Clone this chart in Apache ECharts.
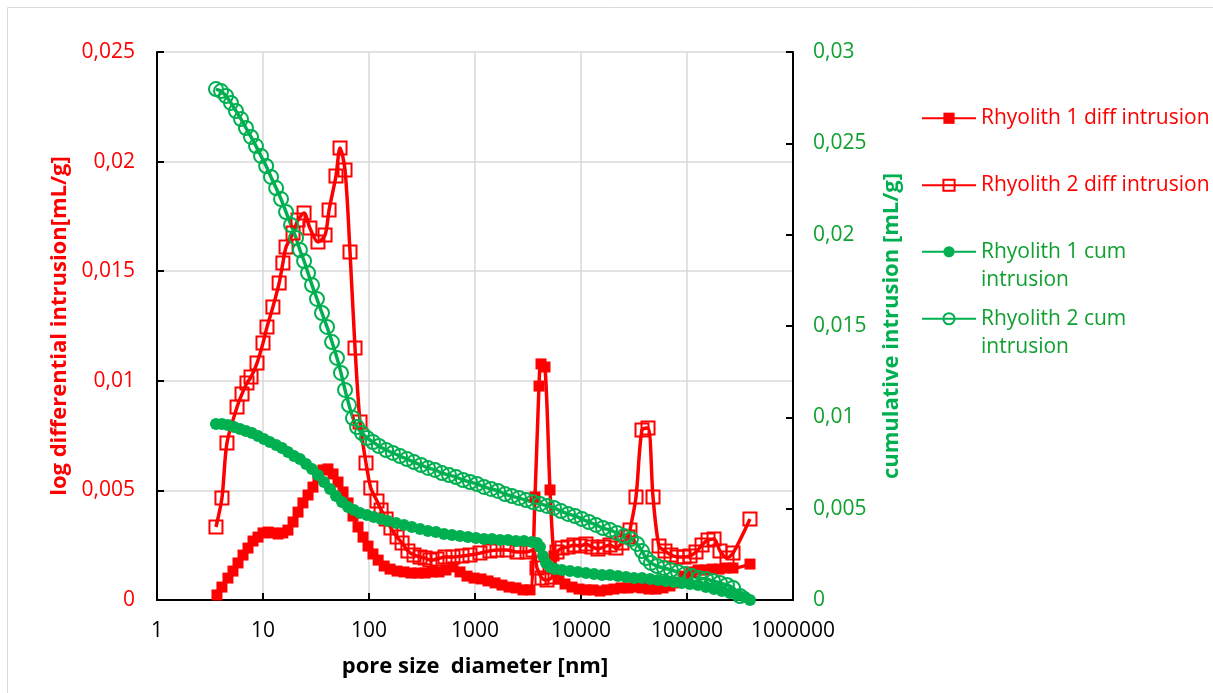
<!DOCTYPE html>
<html>
<head>
<meta charset="utf-8">
<script src="https://cdn.jsdelivr.net/npm/echarts@6/dist/echarts.min.js"></script>
<style>
html,body{margin:0;padding:0;background:#fff;}
#chart{width:1213px;height:693px;}
</style>
</head>
<body>
<div id="chart"></div>
<script>
// ---- data ----
const seriesNames = ['Rhyolith 1 diff intrusion', 'Rhyolith 2 diff intrusion', 'Rhyolith 1 cum intrusion', 'Rhyolith 2 cum intrusion'];
const xTickLabels = ['1', '10', '100', '1000', '10000', '100000', '1000000'];

const r1DiffX = [3.68,4.10,4.67,5.21,5.81,6.48,7.22,8.05,8.97,10.0,11.2,12.4,13.9,15.4,17.2,19.2,21.4,23.8,26.6,29.6,33.0,36.8,41.0,45.8,51.0,56.9,63.4,70.6,78.8,87.8,97.9,109,122,139,158,184,214,249,290,338,393,458,532,620,722,841,979,1140,1327,1545,1799,2094,2437,2837,3304,3681,4015,4195,4575,5101,5559,6198,7063,8228,9572,11140,12970,15110,17590,20480,23850,27740,32300,37620,43820,51050,59430,69130,80540,93750,109100,127000,147900,172200,200400,233400,271700,392800];
const r1DiffY = [0.00023,0.00059,0.00100,0.00132,0.00169,0.00205,0.00237,0.00269,0.00287,0.00306,0.00310,0.00306,0.00301,0.00306,0.00319,0.00356,0.00401,0.00443,0.00479,0.00515,0.00557,0.00593,0.00598,0.00575,0.00538,0.00493,0.00443,0.00383,0.00333,0.00287,0.00246,0.00210,0.00182,0.00155,0.00141,0.00132,0.00128,0.00123,0.00123,0.00123,0.00128,0.00128,0.00137,0.00151,0.00128,0.00109,0.00100,0.00096,0.00087,0.00078,0.00068,0.00059,0.00055,0.00046,0.00046,0.00470,0.00976,0.01077,0.01063,0.00502,0.00201,0.00096,0.00073,0.00059,0.00050,0.00046,0.00046,0.00041,0.00046,0.00050,0.00055,0.00055,0.00059,0.00055,0.00050,0.00050,0.00055,0.00064,0.00078,0.00109,0.00128,0.00137,0.00137,0.00141,0.00141,0.00146,0.00146,0.00164];

const r2DiffX = [3.60,4.10,4.57,5.69,6.34,7.06,7.71,8.78,10.0,10.9,12.4,14.2,15.4,16.5,19.2,21.4,24.4,27.7,33.0,38.5,42.0,48.8,53.3,59.4,66.2,73.8,82.3,93.7,104,119,130,145,161,184,205,233,266,303,338,376,438,521,620,754,897,1114,1386,1614,2005,2490,3096,3524,3846,4286,4780,5325,5942,6620,7540,8590,9794,11140,12700,14460,16480,18780,21380,24370,27740,28970,33030,37620,42880,47790,54450,61990,70630,80540,93750,106800,121600,138600,157900,179900,204800,238400,271700,392800];
const r2DiffY = [0.00333,0.00465,0.00716,0.00880,0.00940,0.00990,0.01017,0.01081,0.01172,0.01245,0.01337,0.01446,0.01537,0.01610,0.01674,0.01734,0.01765,0.01697,0.01633,0.01665,0.01779,0.01934,0.02062,0.01962,0.01588,0.01150,0.00812,0.00625,0.00511,0.00452,0.00411,0.00370,0.00328,0.00287,0.00260,0.00224,0.00205,0.00196,0.00192,0.00182,0.00187,0.00196,0.00196,0.00201,0.00205,0.00214,0.00224,0.00228,0.00228,0.00219,0.00219,0.00228,0.00146,0.00100,0.00091,0.00105,0.00219,0.00237,0.00242,0.00251,0.00246,0.00255,0.00242,0.00233,0.00242,0.00251,0.00237,0.00260,0.00287,0.00319,0.00470,0.00776,0.00785,0.00470,0.00246,0.00224,0.00205,0.00196,0.00196,0.00201,0.00219,0.00251,0.00274,0.00278,0.00224,0.00192,0.00214,0.00370];

const r1CumX = [3.60,4.10,4.67,5.33,6.07,6.91,7.87,8.97,10.2,11.6,13.3,15.1,17.2,19.6,22.3,25.5,29.0,33.0,37.6,42.9,48.8,55.6,63.4,72.1,82.3,95.7,111,130,151,180,214,254,303,360,429,510,607,722,859,1022,1216,1446,1722,2048,2437,2898,3448,3846,4103,4383,4677,5101,5688,6620,7874,9367,11140,13270,15780,18780,22340,26590,31640,37620,44770,53250,63400,75400,89700,106800,127000,151000,179900,213900,254500,302700,352600,392800];
const r1CumY = [0.00963,0.00963,0.00958,0.00947,0.00936,0.00925,0.00914,0.00898,0.00881,0.00865,0.00849,0.00832,0.00810,0.00788,0.00772,0.00745,0.00717,0.00684,0.00646,0.00608,0.00569,0.00536,0.00509,0.00493,0.00476,0.00465,0.00454,0.00443,0.00432,0.00422,0.00411,0.00400,0.00389,0.00378,0.00372,0.00361,0.00356,0.00350,0.00345,0.00339,0.00334,0.00334,0.00328,0.00328,0.00323,0.00323,0.00318,0.00312,0.00290,0.00241,0.00203,0.00181,0.00170,0.00164,0.00159,0.00153,0.00148,0.00142,0.00137,0.00137,0.00131,0.00126,0.00120,0.00120,0.00115,0.00109,0.00104,0.00099,0.00093,0.00088,0.00082,0.00071,0.00060,0.00049,0.00038,0.00027,0.00016,0];

const r2CumX = [3.60,4.02,4.48,4.99,5.56,6.20,6.91,7.71,8.59,9.58,10.7,11.9,13.3,14.8,16.5,18.4,20.5,22.3,24.4,26.6,29.0,32.3,36.0,40.2,44.8,49.9,54.4,59.4,64.8,70.6,77.1,85.9,95.7,109,124,145,168,196,228,266,310,360,419,488,569,662,770,897,1044,1216,1416,1648,1919,2234,2601,3029,3524,4103,4780,5559,6471,7540,8777,10220,11890,13860,16130,18780,21860,25470,29640,33750,37620,41020,45710,52130,60680,70630,82250,95800,111500,129800,151000,176000,204800,238400,271700,316200];
const r2CumY = [0.02797,0.02786,0.02759,0.02721,0.02677,0.02633,0.02584,0.02535,0.02485,0.02431,0.02376,0.02316,0.02255,0.02195,0.02124,0.02053,0.01982,0.01916,0.01856,0.01790,0.01724,0.01648,0.01571,0.01495,0.01412,0.01325,0.01243,0.01150,0.01067,0.00996,0.00947,0.00914,0.00887,0.00865,0.00843,0.00821,0.00805,0.00788,0.00772,0.00755,0.00739,0.00723,0.00712,0.00695,0.00684,0.00673,0.00657,0.00646,0.00635,0.00619,0.00608,0.00597,0.00580,0.00569,0.00558,0.00547,0.00536,0.00526,0.00515,0.00504,0.00487,0.00471,0.00460,0.00443,0.00427,0.00411,0.00394,0.00383,0.00367,0.00350,0.00334,0.00307,0.00268,0.00230,0.00203,0.00186,0.00175,0.00164,0.00153,0.00142,0.00131,0.00120,0.00115,0.00104,0.00093,0.00082,0.00066,0.00022];

// ---- styling ----
const RED = '#FF0000';
const GREEN = '#00B050';
const GREEN_TXT = '#10A030';
const FONT = '"Open Sans", "Noto Sans", sans-serif';
const pairs = (xs, ys) => xs.map((x, i) => [x, ys[i]]);
const comma = v => (+v.toFixed(4)).toString().replace('.', ',');

const chart = echarts.init(document.getElementById('chart'), null, {renderer: 'canvas'});

function legendFor(idx, top, color, twoLine) {
  return {
    data: [seriesNames[idx]],
    left: 921, top: top,
    padding: 0,
    itemWidth: 54, itemHeight: 14,
    selectedMode: false,
    formatter: n => twoLine ? '\n' + n.replace(' cum intrusion', ' cum\nintrusion') : n,
    textStyle: {color: color, fontSize: 21, fontFamily: FONT, lineHeight: 28.5}
  };
}

const option = {
  animation: false,
  backgroundColor: '#fff',
  graphic: [{
    type: 'rect', silent: true, z: -10,
    shape: {x: 7.5, y: 7.5, width: 1220, height: 720},
    style: {fill: 'none', stroke: '#d9d9d9', lineWidth: 1}
  }],
  legend: [
    legendFor(0, 104, RED, false),
    legendFor(1, 171, RED, false),
    legendFor(2, 209, GREEN_TXT, true),
    legendFor(3, 276, GREEN_TXT, true)
  ],
  grid: {left: 157, right: 420, top: 52, bottom: 93, containLabel: false},
  xAxis: {
    type: 'log', logBase: 10, min: 1, max: 1000000,
    name: 'pore size  diameter [nm]', nameLocation: 'middle', nameGap: 56,
    nameTextStyle: {color: '#000', fontSize: 22, fontWeight: 'bold', fontFamily: FONT},
    axisLine: {lineStyle: {color: '#000', width: 2}},
    axisTick: {inside: true, length: 7, lineStyle: {color: '#000', width: 2}},
    axisLabel: {color: '#000', fontSize: 21, fontFamily: FONT, margin: 21,
      formatter: v => xTickLabels[Math.round(Math.log10(v))] },
    splitLine: {show: true, lineStyle: {color: '#d9d9d9', width: 1.5}},
    minorTick: {show: false}
  },
  yAxis: [{
    type: 'value', min: 0, max: 0.025, interval: 0.005, position: 'left',
    name: 'log differential intrusion[mL/g]', nameLocation: 'middle', nameGap: 86, nameRotate: 90,
    nameTextStyle: {color: RED, fontSize: 22, fontWeight: 'bold', fontFamily: FONT},
    axisLine: {show: true, lineStyle: {color: '#000', width: 2}},
    axisTick: {show: true, inside: true, length: 7, lineStyle: {color: '#000', width: 2}},
    axisLabel: {color: RED, fontSize: 21, fontFamily: FONT, margin: 22, formatter: comma},
    splitLine: {show: true, lineStyle: {color: '#d9d9d9', width: 1.5}}
  }, {
    type: 'value', min: 0, max: 0.03, interval: 0.005, position: 'right',
    name: 'cumulative intrusion [mL/g]', nameLocation: 'middle', nameGap: 88, nameRotate: 90,
    nameTextStyle: {color: GREEN, fontSize: 22, fontWeight: 'bold', fontFamily: FONT},
    axisLine: {show: true, lineStyle: {color: '#000', width: 2}},
    axisTick: {show: true, inside: true, length: 7, lineStyle: {color: '#000', width: 2}},
    axisLabel: {color: GREEN_TXT, fontSize: 21, fontFamily: FONT, margin: 20, formatter: comma},
    splitLine: {show: false}
  }],
  series: [{
    name: seriesNames[0], type: 'line', yAxisIndex: 0, smooth: 0.3,
    data: pairs(r1DiffX, r1DiffY),
    symbol: 'rect', symbolSize: 11, showAllSymbol: true,
    lineStyle: {color: RED, width: 3.5},
    itemStyle: {color: RED}
  }, {
    name: seriesNames[1], type: 'line', yAxisIndex: 0, smooth: 0.3,
    data: pairs(r2DiffX, r2DiffY),
    symbol: 'rect', symbolSize: 13, showAllSymbol: true,
    lineStyle: {color: RED, width: 3.5},
    itemStyle: {color: 'rgba(255,255,255,0)', borderColor: RED, borderWidth: 2}
  }, {
    name: seriesNames[2], type: 'line', yAxisIndex: 1, smooth: 0.3,
    data: pairs(r1CumX, r1CumY),
    symbol: 'circle', symbolSize: 12, showAllSymbol: true,
    lineStyle: {color: GREEN, width: 4},
    itemStyle: {color: GREEN}
  }, {
    name: seriesNames[3], type: 'line', yAxisIndex: 1, smooth: 0.3,
    data: pairs(r2CumX, r2CumY),
    symbol: 'circle', symbolSize: 14, showAllSymbol: true,
    lineStyle: {color: GREEN, width: 3.5},
    itemStyle: {color: 'rgba(255,255,255,0)', borderColor: GREEN, borderWidth: 2}
  }]
};
chart.setOption(option);
</script>
</body>
</html>
